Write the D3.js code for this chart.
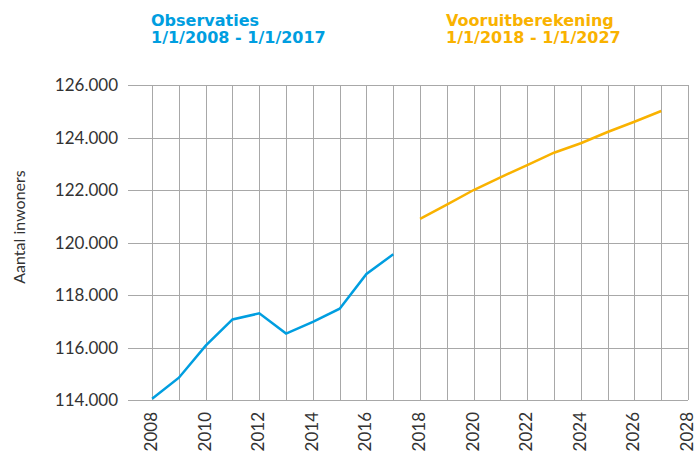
<!DOCTYPE html>
<html>
<head>
<meta charset="utf-8">
<script src="https://cdn.jsdelivr.net/npm/d3@7"></script>
<style>
  body { margin: 0; background: #fff; }
  text { font-family: Lato, "Open Sans", sans-serif; }
</style>
</head>
<body>
<svg id="chart" width="694" height="451"></svg>
<script>
// observed population (1 Jan)
var obsYears = [2008, 2009, 2010, 2011, 2012, 2013, 2014, 2015, 2016, 2017];
var obsValues = [114050, 114850, 116070, 117070, 117300, 116530, 116980, 117480, 118800, 119550];

// projection (1 Jan)
var projYears = [2018, 2019, 2020, 2021, 2022, 2023, 2024, 2025, 2026, 2027];
var projValues = [120900, 121440, 122000, 122480, 122950, 123420, 123780, 124210, 124600, 125010];

var yTicks = [114000, 116000, 118000, 120000, 122000, 124000, 126000];
var xTickLabels = [2008, 2010, 2012, 2014, 2016, 2018, 2020, 2022, 2024, 2026, 2028];
var gridYears = d3.range(2008, 2029);

var BLUE = '#009ee0';
var ORANGE = '#f9b200';
var GRID = '#a8a8a8';

var svg = d3.select('#chart');
var plotLeft = 128, plotRight = 688, plotTop = 85, plotBottom = 400;

var x = d3.scaleLinear().domain([2007.1, 2028]).range([plotLeft, plotRight]);
var y = d3.scaleLinear().domain([114000, 126000]).range([plotBottom, plotTop]);

var fmt = function(v) { return d3.format(',')(v).replace(/,/g, '.'); };

// horizontal grid
svg.append('g').selectAll('line')
    .data(yTicks)
    .enter().append('line')
    .attr('x1', plotLeft).attr('x2', plotRight)
    .attr('y1', function(d) { return Math.round(y(d)) + 0.5; })
    .attr('y2', function(d) { return Math.round(y(d)) + 0.5; })
    .attr('stroke', GRID).attr('stroke-width', 1);

// vertical grid, one per year
svg.append('g').selectAll('line')
    .data(gridYears)
    .enter().append('line')
    .attr('x1', function(d) { return Math.round(x(d)) + 0.5; })
    .attr('x2', function(d) { return Math.round(x(d)) + 0.5; })
    .attr('y1', plotTop).attr('y2', plotBottom)
    .attr('stroke', GRID).attr('stroke-width', 1);

// y tick labels
svg.append('g').selectAll('text')
    .data(yTicks)
    .enter().append('text')
    .attr('x', 118)
    .attr('y', function(d) { return y(d) + 6; })
    .attr('text-anchor', 'end')
    .attr('font-size', 17)
    .attr('fill', '#333')
    .text(fmt);

// x tick labels, rotated
svg.append('g').selectAll('text')
    .data(xTickLabels)
    .enter().append('text')
    .attr('transform', function(d) { return 'translate(' + (x(d) + 5) + ',412) rotate(-90)'; })
    .attr('text-anchor', 'end')
    .attr('font-size', 17)
    .attr('fill', '#333')
    .text(function(d) { return d; });

// y axis title
svg.append('text')
    .attr('transform', 'translate(25,227) rotate(-90)')
    .attr('text-anchor', 'middle')
    .attr('font-size', 16)
    .attr('fill', '#333')
    .text('Aantal inwoners');

var line = d3.line()
    .x(function(d) { return x(d[0]); })
    .y(function(d) { return y(d[1]); });

svg.append('path')
    .datum(d3.zip(obsYears, obsValues))
    .attr('d', line)
    .attr('fill', 'none')
    .attr('stroke', BLUE)
    .attr('stroke-width', 2.5);

svg.append('path')
    .datum(d3.zip(projYears, projValues))
    .attr('d', line)
    .attr('fill', 'none')
    .attr('stroke', ORANGE)
    .attr('stroke-width', 2.5);

// header labels
function header(xpos, color, lines) {
    var t = svg.append('text')
        .attr('x', xpos)
        .attr('y', 26)
        .attr('fill', color)
        .attr('font-size', 16)
        .attr('font-weight', 'bold')
        .style('font-family', '"DejaVu Sans", sans-serif');
    lines.forEach(function(s, i) {
        t.append('tspan').attr('x', xpos).attr('dy', i ? 17 : 0).text(s);
    });
}
header(151, BLUE, ['Observaties', '1/1/2008 - 1/1/2017']);
header(446, ORANGE, ['Vooruitberekening', '1/1/2018 - 1/1/2027']);
</script>
</body>
</html>
